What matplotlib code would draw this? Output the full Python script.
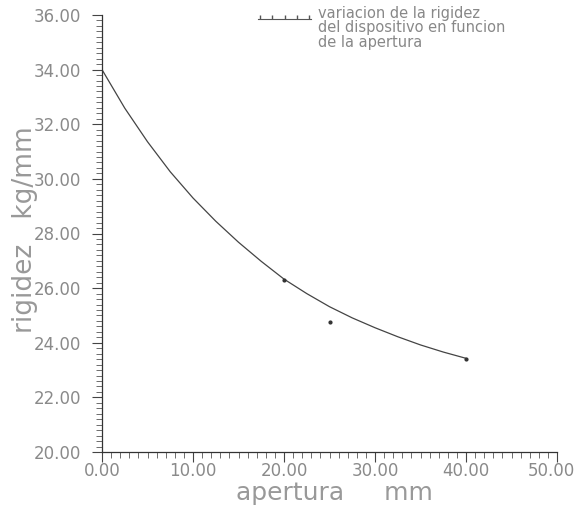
import numpy as np
import matplotlib
matplotlib.use('Agg')
import matplotlib.pyplot as plt
import matplotlib.lines as mlines
from matplotlib.ticker import MultipleLocator, FuncFormatter, FormatStrFormatter

# fitted curve
curve_x = [0, 2.5, 5, 7.5, 10, 12.5, 15, 17.5, 20, 22.5, 25, 27.5, 30, 32.5, 35, 37.5, 40]
curve_y = [34.0, 32.59, 31.36, 30.26, 29.3, 28.45, 27.68, 26.98, 26.33, 25.8,
           25.32, 24.91, 24.55, 24.22, 23.92, 23.66, 23.43]

# measured points
meas_x = [20, 25, 40]
meas_y = [26.28, 24.75, 23.42]

x_max = 50
legend_text = 'variacion de la rigidez\ndel dispositivo en funcion\nde la apertura'

plt.rcParams["font.family"] = 'DejaVu Sans'
plt.rcParams["font.size"] = 12

fig = plt.figure(figsize=(5.77, 5.08), dpi=100)
ax = fig.add_axes([102/577, 1-452/508, 455/577, 437/508])

ax.plot(curve_x, curve_y, '-', color='#444444', linewidth=0.9)
ax.plot(meas_x, meas_y, 'o', color='#333333', markersize=2)

ax.set_xlim(0, x_max)
ax.set_ylim(20, 36)
ax.xaxis.set_major_locator(MultipleLocator(10))
ax.xaxis.set_minor_locator(MultipleLocator(1))
ax.yaxis.set_major_locator(MultipleLocator(2))
ax.yaxis.set_minor_locator(MultipleLocator(0.2))
# the last x label is drawn separately, nudged in from the edge
ax.xaxis.set_major_formatter(FuncFormatter(lambda v, p: '' if v >= x_max else '%.2f' % v))
ax.yaxis.set_major_formatter(FormatStrFormatter('%.2f'))

for s in ['top', 'right']:
    ax.spines[s].set_visible(False)
for s in ['left', 'bottom']:
    ax.spines[s].set_color('#333333')
    ax.spines[s].set_linewidth(0.9)

ax.tick_params(which='major', direction='out', length=7, width=0.8,
               color='#444444', labelcolor='#8a8a8a', labelsize=12)
ax.tick_params(axis='x', which='major', pad=0)
ax.tick_params(axis='y', which='major', pad=8)
ax.tick_params(which='minor', direction='out', length=4, width=0.6, color='#555555')

ax.annotate('%.2f' % x_max, xy=(x_max, 0), xycoords=('data', 'axes fraction'),
            xytext=(-4, -7), textcoords='offset points', ha='center', va='top',
            fontsize=12, color='#8a8a8a', annotation_clip=False)

ax.set_xlabel('apertura     mm', fontsize=18, color='#999999')
ax.xaxis.set_label_coords(0.51, -0.066)
ax.xaxis.label.set_verticalalignment('top')
ax.set_ylabel('rigidez   kg/mm', fontsize=19, color='#999999')
ax.yaxis.set_label_coords(-0.14, 0.51)

# legend drawn by hand at the top right
sample = mlines.Line2D([258/577, 311/577], [1-19/508, 1-19/508],
                       transform=fig.transFigure, color='#555555', linewidth=0.8)
fig.add_artist(sample)
ticks = mlines.Line2D(np.linspace(260, 309, 5)/577, [1-19/508]*5,
                      transform=fig.transFigure, linestyle='none',
                      color='#555555', marker=2, markersize=3)
fig.add_artist(ticks)
fig.text(318/577, 1-6/508, legend_text, ha='left', va='top', fontsize=10.5,
         color='#888888', linespacing=0.95)

fig.savefig('out.png', dpi=100)
